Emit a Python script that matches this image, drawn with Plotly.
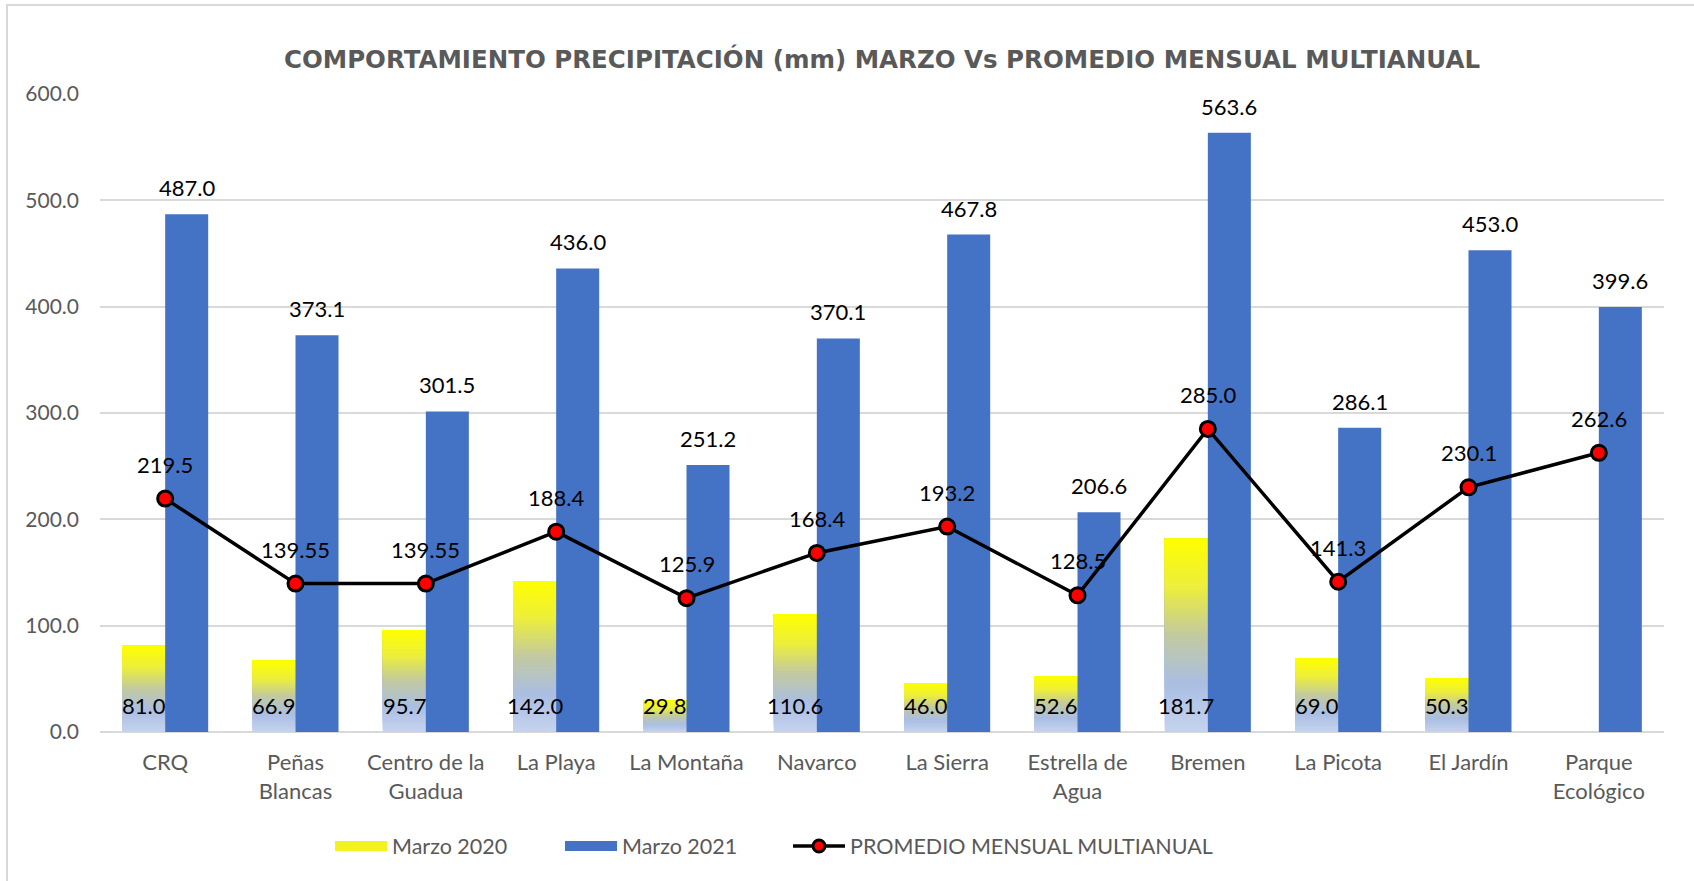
import plotly.graph_objects as go

# ---------------- data ----------------
categories = ["CRQ", "Peñas<br>Blancas", "Centro de la<br>Guadua", "La Playa", "La Montaña",
              "Navarco", "La Sierra", "Estrella de<br>Agua", "Bremen", "La Picota",
              "El Jardín", "Parque<br>Ecológico"]
marzo_2020 = [81.0, 66.9, 95.7, 142.0, 29.8, 110.6, 46.0, 52.6, 181.7, 69.0, 50.3, None]
marzo_2021 = [487.0, 373.1, 301.5, 436.0, 251.2, 370.1, 467.8, 206.6, 563.6, 286.1, 453.0, 399.6]
promedio = [219.5, 139.55, 139.55, 188.4, 125.9, 168.4, 193.2, 128.5, 285.0, 141.3, 230.1, 262.6]
y_ticks = [0, 100, 200, 300, 400, 500, 600]

title_text = "COMPORTAMIENTO PRECIPITACIÓN (mm) MARZO Vs PROMEDIO MENSUAL MULTIANUAL"
name_2020 = "Marzo 2020"
name_2021 = "Marzo 2021"
name_prom = "PROMEDIO MENSUAL MULTIANUAL"

# ---------------- style ----------------
W, H = 1694, 881
M_L, M_R, M_T, M_B = 100, 30, 94, 149
BARGAP = 0.34
FONT = "Lato"
GRAY = "#595959"
GRID = "#D9D9D9"
BLUE = "#4472C4"

# gradient stops for Marzo 2020 bars (t=0 bottom -> t=1 top)
grad_stops = [(0.0, (197, 211, 238)), (0.25, (170, 190, 227)), (0.5, (194, 201, 160)),
              (0.75, (236, 238, 60)), (1.0, (255, 255, 0))]


def grad_color(t):
    for (t0, c0), (t1, c1) in zip(grad_stops[:-1], grad_stops[1:]):
        if t0 <= t <= t1:
            f = (t - t0) / (t1 - t0)
            return "rgb(%d,%d,%d)" % tuple(round(a + (b - a) * f) for a, b in zip(c0, c1))
    return "rgb(255,255,0)"


def fmt(v):
    return f"{v:.1f}" if round(v, 1) == v else f"{v}"


fig = go.Figure()

# Marzo 2020: gradient built from overlapping slices (each from its start up to the bar top)
N_SEG = 60
for i in range(N_SEG):
    t = (i + 0.5) / N_SEG
    fig.add_trace(go.Bar(
        x=categories,
        y=[None if v is None else v * (1 - i / N_SEG) for v in marzo_2020],
        base=[None if v is None else v * i / N_SEG for v in marzo_2020],
        offsetgroup="2020",
        name=name_2020,
        showlegend=False,
        marker=dict(color=grad_color(t), line=dict(width=0)),
        hoverinfo="skip",
    ))

fig.add_trace(go.Bar(
    x=categories, y=marzo_2021, offsetgroup="2021", name=name_2021, showlegend=False,
    marker=dict(color=BLUE, line=dict(width=0)),
))

fig.add_trace(go.Scatter(
    x=categories, y=promedio, mode="lines+markers", name=name_prom, showlegend=False,
    line=dict(color="black", width=3.5),
    marker=dict(color="#FF0000", size=15, line=dict(color="black", width=3)),
))

# legend entries (wide rectangular swatches), one legend each so they can be spaced freely
fig.add_trace(go.Scatter(x=[None], y=[None], mode="lines", name=name_2020, legend="legend",
                         line=dict(color="#F2F21E", width=14)))
fig.add_trace(go.Scatter(x=[None], y=[None], mode="lines", name=name_2021, legend="legend2",
                         line=dict(color=BLUE, width=14)))
fig.add_trace(go.Scatter(x=[None], y=[None], mode="lines+markers", name=name_prom,
                         legend="legend3",
                         line=dict(color="black", width=3.5),
                         marker=dict(color="#FF0000", size=12, line=dict(color="black", width=3))))

# ---------------- data labels ----------------
plot_w = W - M_L - M_R
cat_w = plot_w / len(categories)
half_bar = cat_w * (1 - BARGAP) / 4
lab_font = dict(family=FONT, size=22, color="black")
annotations = []
for c, v in zip(categories, marzo_2020):
    if v is not None:
        annotations.append(dict(x=c, y=0, text=fmt(v), showarrow=False, xshift=-half_bar,
                                yanchor="bottom", yshift=11, font=lab_font))
for c, v in zip(categories, marzo_2021):
    annotations.append(dict(x=c, y=v, text=fmt(v), showarrow=False, xshift=half_bar,
                            yanchor="bottom", yshift=11, font=lab_font))
for c, v in zip(categories, promedio):
    annotations.append(dict(x=c, y=v, text=fmt(v), showarrow=False,
                            yanchor="bottom", yshift=19, font=lab_font))

# chart frame
plot_h = H - M_T - M_B
shapes = [dict(type="rect", xref="paper", yref="paper",
               x0=(7 - M_L) / plot_w, x1=(W + 20 - M_L) / plot_w,
               y0=-(H + 20 - M_T - plot_h) / plot_h, y1=1 + (M_T - 5) / plot_h,
               line=dict(color=GRID, width=2), fillcolor="rgba(0,0,0,0)", layer="below")]

leg_y = -(846 - (H - M_B)) / plot_h


def leg(px):
    return dict(orientation="h", x=(px - 5 - M_L) / plot_w, xanchor="left", y=leg_y,
                yanchor="middle", itemwidth=52, bgcolor="rgba(0,0,0,0)",
                font=dict(family=FONT, size=21.5, color=GRAY))


fig.update_layout(
    width=W, height=H,
    margin=dict(l=M_L, r=M_R, t=M_T, b=M_B),
    paper_bgcolor="white", plot_bgcolor="white",
    barmode="group", bargap=BARGAP, bargroupgap=0,
    font=dict(family=FONT, color=GRAY, size=20),
    title=dict(text="<b>" + title_text + "</b>", x=0.5, xref="paper", y=1 - 59 / H,
               yanchor="middle", xanchor="center",
               font=dict(family="DejaVu Sans", size=24.5, color=GRAY)),
    xaxis=dict(range=[-0.5, len(categories) - 0.5], showgrid=False, showline=False, ticks="",
               ticklabelstandoff=15, tickfont=dict(family=FONT, size=22, color=GRAY)),
    yaxis=dict(range=[0, 600], tickvals=y_ticks, tickformat=".1f", showgrid=True,
               gridcolor=GRID, gridwidth=1.5, zeroline=True, zerolinecolor=GRID,
               zerolinewidth=1.5, showline=False, ticks="", ticklabelstandoff=20,
               tickfont=dict(family=FONT, size=21, color=GRAY)),
    legend=leg(335),
    legend2=leg(565),
    legend3=leg(793),
    annotations=annotations,
    shapes=shapes,
    showlegend=True,
)

fig.write_html("out.html", post_script="document.body.style.margin='0';",
               config={"displayModeBar": False})
